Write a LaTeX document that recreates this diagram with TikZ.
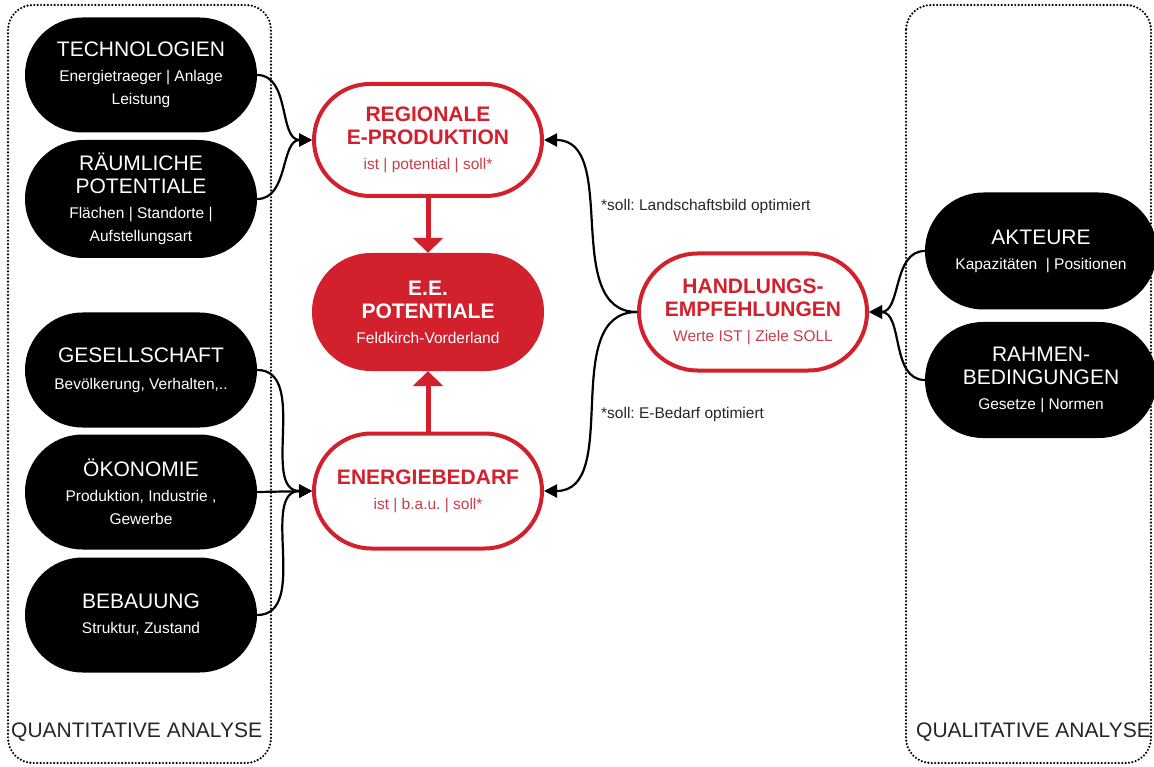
\documentclass[tikz,border=0pt]{standalone}
\usepackage{fontspec}
\setmainfont{Liberation Sans}
\usetikzlibrary{arrows.meta,shapes.misc}
\definecolor{ered}{RGB}{210,32,44}
\definecolor{esub}{RGB}{200,62,74}
\newcommand\ttlfont{\fontsize{21}{25}\selectfont}
\newcommand\subfont{\fontsize{15.5}{23}\selectfont}
\frenchspacing
\begin{document}
\begin{tikzpicture}[x=1pt,y=-1pt,
  blk/.style={rounded rectangle, fill=black, text=white, minimum width=232pt, minimum height=115pt, align=center, font=\subfont, inner sep=0pt},
  rbox/.style={rounded rectangle, draw=ered, line width=4pt, fill=white, text=esub, minimum width=228pt, minimum height=112pt, align=center, font=\subfont, inner sep=0pt},
  rfill/.style={rounded rectangle, fill=ered, text=white, minimum width=232pt, minimum height=118pt, align=center, font=\subfont, inner sep=0pt},
  conn/.style={line width=2.2pt, -{Triangle[length=13pt,width=13pt]}},
  rarr/.style={draw=ered, line width=5pt, -{Triangle[length=15pt,width=30pt]}},
  dotbox/.style={line width=2.4pt, dash pattern=on 0pt off 3.4pt, line cap=round, rounded corners=25pt},
  note/.style={font=\subfont, text=black!85, anchor=west, inner sep=0pt},
  grp/.style={font=\ttlfont, text=black!85, anchor=west, inner sep=0pt}
]
\useasboundingbox (0,0) rectangle (1154,767);
\fill[white] (0,0) rectangle (1154,767);

% group boxes
\draw[dotbox] (8,5) rectangle (271,763);
\draw[dotbox] (906,5) rectangle (1151,763);
\node[grp] (qn) at (11,732) {QUANTITATIVE ANALYSE};
\node[grp] (ql) at (916,732) {QUALITATIVE ANALYSE};

% left black nodes
\node[blk] (tech) at (141,75) {{\ttlfont TECHNOLOGIEN}\\[2pt]Energietraeger | Anlage\\Leistung};
\node[blk, minimum height=118pt] (raum) at (141,199) {{\ttlfont RÄUMLICHE}\\{\ttlfont POTENTIALE}\\[2pt]Flächen | Standorte |\\Aufstellungsart};
\node[blk] (ges) at (141,370) {{\ttlfont GESELLSCHAFT}\\[4pt]Bevölkerung, Verhalten,..};
\node[blk] (oek) at (141,492) {{\ttlfont ÖKONOMIE}\\[2pt]Produktion, Industrie ,\\Gewerbe};
\node[blk] (beb) at (141,615) {{\ttlfont BEBAUUNG}\\[2pt]Struktur, Zustand};

% central red nodes
\node[rbox] (reg) at (428,140) {{\ttlfont\bfseries\color{ered}REGIONALE}\\{\ttlfont\bfseries\color{ered}E-PRODUKTION}\\[2pt]ist | potential | soll*};
\node[rfill] (ee) at (428,312) {{\ttlfont\bfseries E.E.}\\{\ttlfont\bfseries POTENTIALE}\\[2pt]Feldkirch-Vorderland};
\node[rbox, minimum height=115pt] (eb) at (428,491) {{\ttlfont\bfseries\color{ered}ENERGIEBEDARF}\\[2pt]ist | b.a.u. | soll*};
\node[rbox, minimum height=117pt] (hand) at (753,312) {{\ttlfont\bfseries\color{ered}HANDLUNGS-}\\{\ttlfont\bfseries\color{ered}EMPFEHLUNGEN}\\[2pt]Werte IST | Ziele SOLL};

% right black nodes
\node[blk, minimum height=117pt] (akt) at (1041,251) {{\ttlfont AKTEURE}\\[2pt]Kapazitäten \ | Positionen};
\node[blk, minimum height=116pt] (rah) at (1041,380) {{\ttlfont RAHMEN-}\\{\ttlfont BEDINGUNGEN}\\[2pt]Gesetze | Normen};

% notes
\node[note] (n1) at (601,206) {*soll: Landschaftsbild optimiert};
\node[note] (n2) at (601,414) {*soll: E-Bedarf optimiert};

% connectors
\draw[conn] (tech.east) to[out=0,in=180] (reg.west);
\draw[conn] (raum.east) to[out=0,in=180] (reg.west);
\draw[conn] (ges.east) to[out=0,in=180] (eb.west);
\draw[conn] (oek.east) -- (eb.west);
\draw[conn] (beb.east) to[out=0,in=180] (eb.west);
\draw[conn] (hand.west) to[out=180,in=0] (reg.east);
\draw[conn] (hand.west) to[out=180,in=0] (eb.east);
\draw[conn] (akt.west) to[out=180,in=0] (hand.east);
\draw[conn] (rah.west) to[out=180,in=0] (hand.east);
\draw[rarr] (reg.south) -- (ee.north);
\draw[rarr] (eb.north) -- (ee.south);
\end{tikzpicture}
\end{document}
